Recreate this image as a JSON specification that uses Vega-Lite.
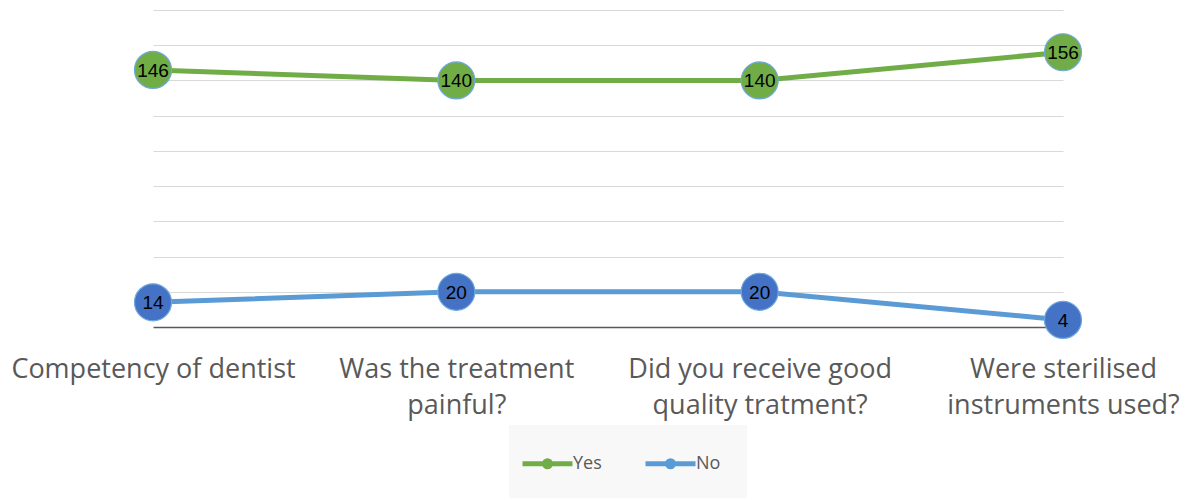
{
  "$schema": "https://vega.github.io/schema/vega-lite/v6.json",
  "width": 910,
  "height": 317,
  "autosize": {"type": "none"},
  "padding": {"left": 153, "top": 10, "right": 130, "bottom": 171},
  "background": "white",
  "config": {"view": {"stroke": null}},
  "data": {
    "values": [
      {"q": "Competency of dentist", "series": "Yes", "value": 146},
      {"q": "Was the treatment|painful?", "series": "Yes", "value": 140},
      {"q": "Did you receive good|quality tratment?", "series": "Yes", "value": 140},
      {"q": "Were sterilised|instruments used?", "series": "Yes", "value": 156},
      {"q": "Competency of dentist", "series": "No", "value": 14},
      {"q": "Was the treatment|painful?", "series": "No", "value": 20},
      {"q": "Did you receive good|quality tratment?", "series": "No", "value": 20},
      {"q": "Were sterilised|instruments used?", "series": "No", "value": 4}
    ]
  },
  "encoding": {
    "x": {
      "field": "q",
      "type": "nominal",
      "sort": ["Competency of dentist", "Was the treatment|painful?", "Did you receive good|quality tratment?", "Were sterilised|instruments used?"],
      "scale": {"type": "point", "padding": 0},
      "axis": {
        "title": null,
        "labelAngle": 0,
        "labelExpr": "split(datum.label, '|')",
        "labelFont": "Open Sans",
        "labelFontSize": 27,
        "labelColor": "#595959",
        "labelLineHeight": 36,
        "labelPadding": 29,
        "labelLimit": 400,
        "ticks": false,
        "grid": false,
        "domainColor": "#595959",
        "domainWidth": 1.5
      }
    },
    "y": {
      "field": "value",
      "type": "quantitative",
      "scale": {"domain": [0, 180]},
      "axis": {
        "title": null,
        "labels": false,
        "ticks": false,
        "domain": false,
        "values": [20, 40, 60, 80, 100, 120, 140, 160, 180],
        "gridColor": "#d9d9d9",
        "gridWidth": 1.2
      }
    }
  },
  "layer": [
    {
      "mark": {"type": "line", "strokeWidth": 5, "strokeCap": "round"},
      "encoding": {
        "detail": {"field": "series"},
        "stroke": {
          "field": "series",
          "type": "nominal",
          "scale": {"domain": ["Yes", "No"], "range": ["#70ad47", "#5b9bd5"]},
          "legend": {
            "title": null,
            "orient": "none",
            "direction": "horizontal",
            "legendX": 356,
            "legendY": 415,
            "padding": 26,
            "fillColor": "#f8f8f8",
            "symbolType": "M-2.5,0 L2.5,0 M0.3,0 A0.3,0.3 0 1,1 -0.3,0 A0.3,0.3 0 1,1 0.3,0",
            "symbolSize": 400,
            "symbolStrokeWidth": 5,
            "labelFont": "Open Sans",
            "labelFontSize": 18,
            "labelColor": "#595959",
            "labelOffset": 13,
            "columnPadding": 33
          }
        }
      }
    },
    {
      "mark": {"type": "point", "shape": "circle", "filled": true, "size": 1369, "opacity": 1, "stroke": "#6fa8dc", "strokeWidth": 1.2},
      "encoding": {
        "fill": {
          "field": "series",
          "type": "nominal",
          "scale": {"domain": ["Yes", "No"], "range": ["#70ad47", "#4472c4"]},
          "legend": null
        }
      }
    },
    {
      "mark": {"type": "text", "font": "Liberation Sans", "fontSize": 19, "color": "#000000", "align": "center", "baseline": "middle", "dy": 1},
      "encoding": {
        "text": {"field": "value", "type": "quantitative"}
      }
    }
  ]
}
